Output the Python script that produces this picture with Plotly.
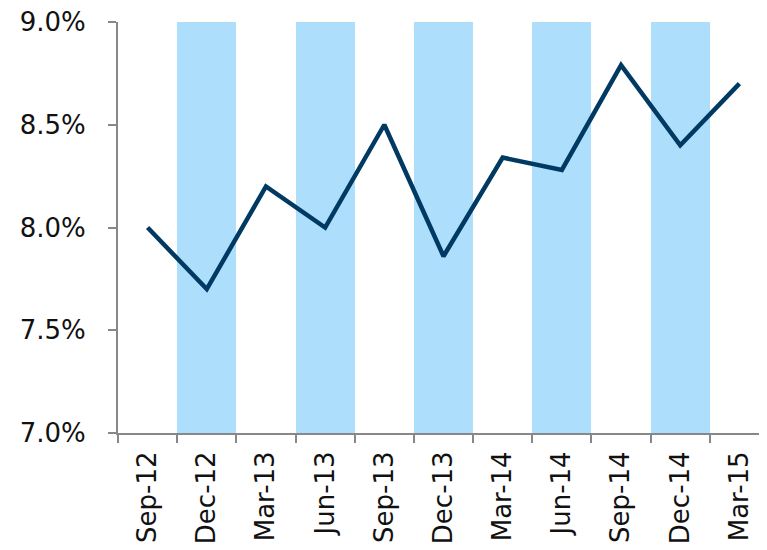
import plotly.graph_objects as go

categories = ["Sep-12", "Dec-12", "Mar-13", "Jun-13", "Sep-13", "Dec-13",
              "Mar-14", "Jun-14", "Sep-14", "Dec-14", "Mar-15"]
values = [8.00, 7.70, 8.20, 8.00, 8.50, 7.86, 8.34, 8.28, 8.79, 8.40, 8.70]
shaded = ["Dec-12", "Jun-13", "Dec-13", "Jun-14", "Dec-14"]
y_min, y_max = 7.0, 9.0
y_ticks = [7.0, 7.5, 8.0, 8.5, 9.0]
y_tick_labels = ["7.0%", "7.5%", "8.0%", "8.5%", "9.0%"]

fig = go.Figure()
fig.add_trace(go.Bar(
    x=shaded, y=[y_max - y_min] * len(shaded), base=[y_min] * len(shaded),
    width=1.0, marker=dict(color="#ADDFFC", line=dict(width=0)),
    showlegend=False, hoverinfo="skip"))
fig.add_trace(go.Scatter(
    x=categories, y=values, mode="lines",
    line=dict(color="#003A63", width=4.5), showlegend=False))

font = dict(family="DejaVu Sans, Verdana, sans-serif", size=26, color="#111111")
fig.update_layout(
    width=767, height=550,
    margin=dict(l=110, r=6, t=14, b=125),
    paper_bgcolor="white", plot_bgcolor="white",
    font=font, bargap=0,
)
fig.update_xaxes(
    type="category", categoryorder="array", categoryarray=categories,
    range=[-0.5, len(categories) - 0.5], automargin=False,
    showgrid=False, showline=True, linecolor="#888888", linewidth=2,
    ticks="outside", tickson="boundaries", ticklen=8, tickcolor="#888888", tickwidth=2,
    tickangle=-90, tickfont=font, ticklabelstandoff=6, ticklabeloverflow="allow",
)
fig.update_yaxes(
    range=[y_min, y_max], tickvals=y_ticks, ticktext=y_tick_labels, automargin=False,
    showgrid=False, showline=True, linecolor="#888888", linewidth=2,
    ticks="outside", ticklen=8, tickcolor="#888888", tickwidth=2,
    tickfont=font, ticklabelstandoff=17, zeroline=False, ticklabeloverflow="allow",
)

fig.write_html("out.html")
